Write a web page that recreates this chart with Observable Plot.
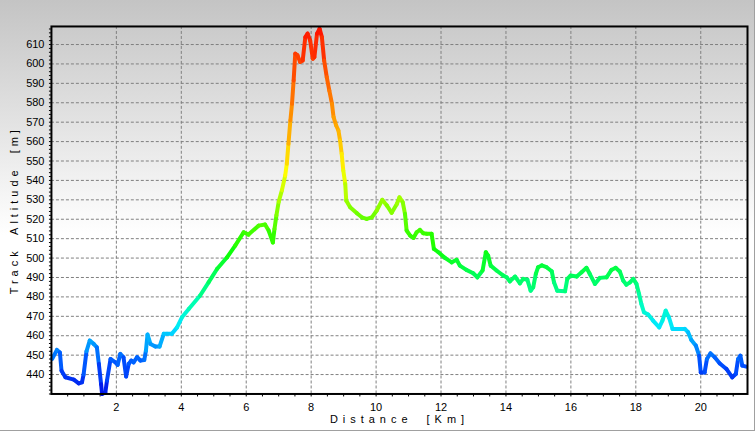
<!DOCTYPE html>
<html>
<head>
<meta charset="utf-8">
<script src="https://cdn.jsdelivr.net/npm/d3@7"></script>
<script src="https://cdn.jsdelivr.net/npm/@observablehq/plot@0.6"></script>
<style>
  html, body { margin: 0; padding: 0; }
  body { width: 755px; height: 431px; overflow: hidden; }
  #wrap {
    position: relative; width: 755px; height: 431px; box-sizing: border-box;
    background: linear-gradient(to bottom, #c4c4c4 0px, #ffffff 235px, #ffffff 431px);
    border-right: 1px solid #a0a0a0; border-bottom: 1px solid #a0a0a0;
  }
  #chart { position: absolute; left: 0; top: 0; }
  #chart svg { background: transparent !important; overflow: visible; }
</style>
</head>
<body>
<div id="wrap"><div id="chart"></div></div>
<script>
// Track distance (km) and altitude (m)
const km = [0.02,0.17,0.26,0.31,0.43,0.69,0.84,0.94,0.99,1.08,1.18,1.30,1.40,1.46,1.53,1.56,1.66,1.71,1.82,1.97,
  2.04,2.12,2.22,2.30,2.38,2.46,2.53,2.64,2.74,2.86,2.91,2.96,3.05,3.20,3.33,3.46,3.56,3.71,3.87,4.02,
  4.23,4.58,4.84,5.10,5.41,5.66,5.92,6.07,6.38,6.58,6.69,6.82,6.87,6.93,7.00,7.10,7.20,7.25,7.30,7.36,
  7.41,7.46,7.51,7.58,7.66,7.74,7.82,7.89,7.97,8.05,8.10,8.18,8.26,8.33,8.40,8.48,8.56,8.64,8.69,8.77,
  8.84,8.89,8.94,8.99,9.05,9.08,9.20,9.41,9.56,9.71,9.87,10.02,10.19,10.33,10.48,10.64,10.72,10.82,10.89,10.94,
  11.05,11.15,11.25,11.35,11.45,11.56,11.71,11.78,11.92,12.12,12.33,12.48,12.58,12.78,12.99,13.12,13.28,13.38,13.45,13.53,
  13.71,13.92,14.02,14.12,14.28,14.43,14.53,14.66,14.76,14.84,14.92,14.99,15.10,15.25,15.41,15.48,15.58,15.82,15.89,15.99,
  16.18,16.33,16.48,16.58,16.74,16.89,17.10,17.25,17.38,17.51,17.61,17.71,17.82,17.92,18.02,18.10,18.17,18.25,18.38,18.53,
  18.72,18.82,18.92,19.02,19.13,19.30,19.51,19.61,19.71,19.85,19.95,20.00,20.12,20.19,20.30,20.43,20.58,20.79,20.97,21.08,
  21.15,21.22,21.28,21.40];
const alt = [448,452.7,451.4,442,438.6,437.4,435.5,436,440,452,457.5,455.8,454,445.5,435,430,430.8,436.8,448,446.3,
  445,450.6,448.9,439,445.5,447.2,446.3,449,447.2,447.5,452.3,460.6,455.8,454.4,454.4,461,461,461,464.3,469.5,
  473.8,480.7,487.5,494.4,500.4,506.4,513.3,512.1,516.7,517.3,514.2,508,515,522,529,535,542.5,548.6,558.9,570.9,
  579.5,591.5,605.3,604.4,601,601.8,613.8,615.6,612,602.7,603.5,615.6,618.1,613.8,601.8,593.2,586.3,579.5,572.6,568.3,
  565.7,560.6,553.7,545.1,538.2,529.6,526.2,523.1,521,520.2,521,524.5,530,527.1,523.3,527.9,531.3,528.8,522.8,514.2,
  511.6,510.4,513.3,514.5,512.8,512.5,512.5,504.7,503,500.1,497.8,499.1,496.1,493.9,492.2,490.1,493.6,503,501.3,496.1,
  493.6,491,490.1,488,490.5,487,489.3,488.8,483.2,485,491.9,495.3,496.2,495.3,493.2,487.5,483.2,482.9,489.3,491,
  490.5,492.7,495,491.9,486.7,489.8,490.1,493.9,495,493,488.4,486.3,487.5,489.3,486.7,481.5,476.4,472.1,470.9,467.8,
  464.3,467.8,472.9,469.5,463.5,463.5,463.5,461.8,457.8,454.9,449.7,441.1,441.1,448,450.9,448.9,445.8,442.9,438.6,440.3,
  448,449.7,444.6,444.1];

// Tick values
const xTickLabels = [2,4,6,8,10,12,14,16,18,20];
const xMinorTicks = d3.range(0.5, 21.45, 0.5);
const yTickLabels = [440,450,460,470,480,490,500,510,520,530,540,550,560,570,580,590,600,610];
const yMinorTicks = d3.range(430, 619, 2);
const yTitle = "Track Altitude [m]";
const xTitle = "Distance [Km]";

// Altitude colour ramp
const colorStops = [430,445,455,465,475,490,505,520,535,545,560,580,600,618];
const colorRange = ["#0010e8","#0050ff","#0098ff","#00e8ff","#00ffc0","#00ff60","#10ff00","#60ff00","#c0ff00","#ffff00","#ffc000","#ff8000","#ff4800","#ff1000"];

const pts = km.map((k, i) => ({km: k, alt: alt[i]}));
const segs = d3.pairs(pts).map(([a, b]) => ({x1: a.km, y1: a.alt, x2: b.km, y2: b.alt, c: (a.alt + b.alt) / 2}));

const font = "'Liberation Sans', Arial, sans-serif";

const chart = Plot.plot({
  width: 755,
  height: 431,
  marginLeft: 51,
  marginRight: 7,
  marginTop: 26,
  marginBottom: 37,
  style: {fontFamily: font, fontSize: "11px", color: "#000", background: "transparent"},
  x: {domain: [0, 21.44], label: null},
  y: {domain: [430, 619.3], label: null},
  color: {type: "linear", domain: colorStops, range: colorRange, interpolate: "rgb"},
  marks: [
    Plot.ruleY(yTickLabels, {stroke: "#808080", strokeWidth: 1, strokeDasharray: "3,2"}),
    Plot.ruleX(xTickLabels, {stroke: "#808080", strokeWidth: 1, strokeDasharray: "3,2"}),
    Plot.axisX({ticks: xMinorTicks, tickSize: 3, tickFormat: () => "", label: null, stroke: "#000"}),
    Plot.axisX({ticks: xTickLabels, tickSize: 0, tickPadding: 9, label: null, fontSize: 11}),
    Plot.axisY({ticks: yMinorTicks, tickSize: 2, tickFormat: () => "", label: null, stroke: "#000"}),
    Plot.axisY({ticks: yTickLabels, tickSize: 0, tickPadding: 7, label: null, fontSize: 11}),
    Plot.link(segs, {x1: "x1", y1: "y1", x2: "x2", y2: "y2", stroke: "c", strokeWidth: 4, strokeLinecap: "round", strokeLinejoin: "round"}),
    Plot.frame({stroke: "#000", strokeWidth: 2}),
    Plot.text([yTitle], {frameAnchor: "left", dx: -37, rotate: -90, fontSize: 11, fill: "#000", textAnchor: "middle"}),
    Plot.text([xTitle], {frameAnchor: "bottom", dy: 29, fontSize: 11, fill: "#000", textAnchor: "middle"})
  ]
});
document.getElementById("chart").appendChild(chart);
d3.select(chart).selectAll("text").each(function() {
  const t = this.textContent;
  if (t === yTitle) { this.style.letterSpacing = "4px"; this.style.wordSpacing = "6px"; }
  if (t === xTitle) { this.style.letterSpacing = "5px"; this.style.wordSpacing = "6px"; }
});
</script>
</body>
</html>
